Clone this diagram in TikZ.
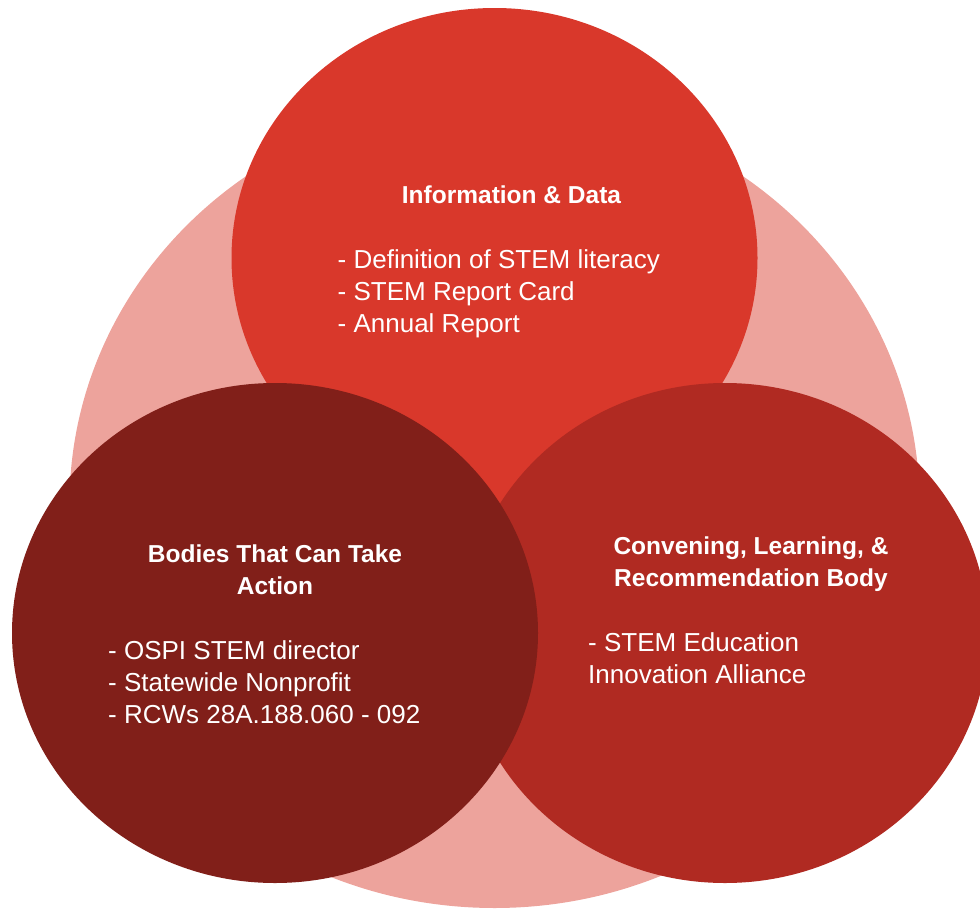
\documentclass[tikz,border=0pt]{standalone}
\usepackage{fontspec}
\setmainfont{Liberation Sans}
\usepackage{tikz}
\usetikzlibrary{shapes.geometric, positioning}

\definecolor{backpink}{HTML}{EDA39C}
\definecolor{topred}{HTML}{D9382B}
\definecolor{leftred}{HTML}{811F19}
\definecolor{rightred}{HTML}{B02A22}

\begin{document}
\begin{tikzpicture}
	[on grid, x=1pt, y=1pt, node distance=100pt,
	 blob/.style={ellipse, inner sep=0pt, minimum width=526pt, minimum height=500pt},
	 head/.style={text=white, align=center, font=\fontsize{24.5}{32}\selectfont\bfseries},
	 item/.style={text=white, align=left, inner sep=0pt, font=\fontsize{26}{32}\selectfont}]
   \useasboundingbox (0,0) rectangle (980,-910);
   \node[blob, fill=backpink, minimum width=850pt, minimum height=808pt] (c_back) at (494.5,-504) {};
   \node[blob, fill=topred] (c_top) [above=246pt of c_back] {};
   \node[blob, fill=rightred] (c_right) [below right=129pt and 230.5pt of c_back] {};
   \node[blob, fill=leftred] (c_left) [below left=129pt and 219.5pt of c_back] {};
   \node[head] (h_top) [above right=63pt and 17pt of c_top] {Information \& Data};
   \node[item] (l_top) [below left=36pt and 157pt of c_top, anchor=west]
      {- Definition of STEM literacy\\- STEM Report Card\\- Annual Report};
   \node[head] (h_left) [above=63.5pt of c_left] {Bodies That Can Take\\Action};
   \node[item] (l_left) [below left=49pt and 167pt of c_left, anchor=west]
      {- OSPI STEM director\\- Statewide Nonprofit\\- RCWs 28A.188.060 - 092};
   \node[head] (h_right) [above right=69pt and 26pt of c_right] {Convening, Learning, \&\\Recommendation Body};
   \node[item] (l_right) [below left=25pt and 137pt of c_right, anchor=west]
      {- STEM Education\\Innovation Alliance};
\end{tikzpicture}
\end{document}
